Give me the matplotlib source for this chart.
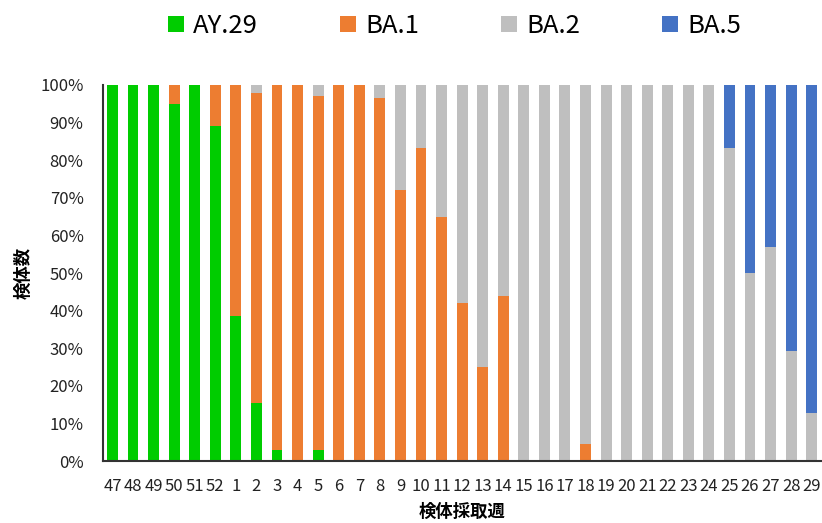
import numpy as np
import matplotlib
matplotlib.use("Agg")
import matplotlib.pyplot as plt
from matplotlib.ticker import PercentFormatter

plt.rcParams['font.family'] = ['Noto Sans CJK JP', 'DejaVu Sans']

# weeks (week 47 of previous year .. week 29)
weeks = ["47", "48", "49", "50", "51", "52"] + [str(i) for i in range(1, 30)]

# share of each lineage per week (%)
ay29 = [100, 100, 100, 95, 100, 89, 38.5, 15.4, 3, 0, 3, 0, 0, 0, 0, 0, 0, 0, 0, 0,
        0, 0, 0, 0, 0, 0, 0, 0, 0, 0, 0, 0, 0, 0, 0]
ba1 = [0, 0, 0, 5, 0, 11, 61.5, 82.5, 97, 100, 94, 100, 100, 96.5, 72, 83.3, 65, 42, 25, 43.8,
       0, 0, 0, 4.5, 0, 0, 0, 0, 0, 0, 0, 0, 0, 0, 0]
ba2 = [0, 0, 0, 0, 0, 0, 0, 2.1, 0, 0, 3, 0, 0, 3.5, 28, 16.7, 35, 58, 75, 56.2,
       100, 100, 100, 95.5, 100, 100, 100, 100, 100, 100, 83.3, 50, 57, 29.2, 12.7]
ba5 = [0] * 30 + [16.7, 50, 43, 70.8, 87.3]

series = [("AY.29", ay29, "#00cc00"),
          ("BA.1", ba1, "#ed7d31"),
          ("BA.2", ba2, "#bfbfbf"),
          ("BA.5", ba5, "#4472c4")]

fig = plt.figure(figsize=(8.22, 5.23), dpi=100)
ax = fig.add_axes([103 / 822, 62 / 523, 719 / 822, 376 / 523])

x = np.arange(len(weeks))
bottom = np.zeros(len(weeks))
for name, vals, color in series:
    v = np.array(vals) / 100.0
    ax.bar(x, v, width=0.53, bottom=bottom, color=color, label=name)
    bottom += v

ax.set_ylim(0, 1)
ax.set_xlim(-0.46, len(weeks) - 0.5)
ax.set_yticks(np.arange(0, 1.01, 0.1))
ax.yaxis.set_major_formatter(PercentFormatter(1.0, decimals=0))
ax.set_xticks(x)
ax.set_xticklabels(weeks, fontsize=12)
ax.tick_params(axis='y', labelsize=12, length=0, pad=14, colors="#222222")
ax.tick_params(axis='x', length=0, pad=12, colors="#222222")

for s in ["top", "right"]:
    ax.spines[s].set_visible(False)
ax.spines["left"].set_color("#333333")
ax.spines["bottom"].set_color("#333333")
ax.spines["left"].set_linewidth(1.5)
ax.spines["bottom"].set_linewidth(1.5)

ax.set_ylabel("検体数", fontsize=12.5, fontweight="bold")
ax.yaxis.set_label_coords(-70 / 719, 0.5)
ax.set_xlabel("検体採取週", fontsize=12.5, fontweight="bold")
ax.xaxis.set_label_coords(0.5, -42 / 376)

fig.legend(loc="center", bbox_to_anchor=(0.553, 1 - 26 / 523), ncol=4, frameon=False,
           fontsize=18.5, handlelength=0.62, handleheight=0.62, handletextpad=0.35,
           columnspacing=3.2)

fig.savefig("out.png", dpi=100)
